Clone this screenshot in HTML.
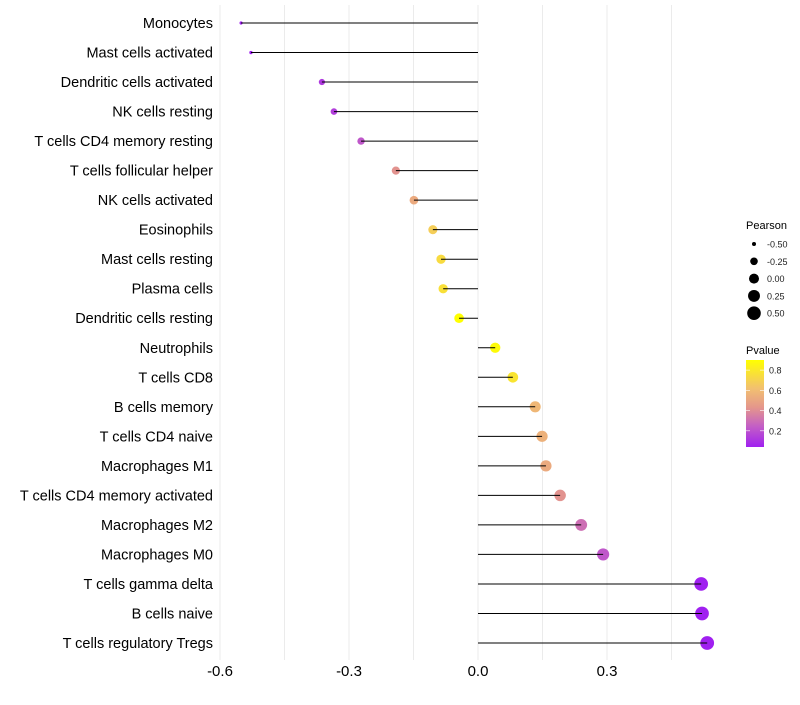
<!DOCTYPE html>
<html><head><meta charset="utf-8"><style>
body{margin:0;background:#fff;font-family:"Liberation Sans",sans-serif}
</style></head><body>
<svg id="chart" width="800" height="700" xmlns="http://www.w3.org/2000/svg" font-family="Liberation Sans, sans-serif"></svg>
<script>
const categories=["Monocytes","Mast cells activated","Dendritic cells activated","NK cells resting","T cells CD4 memory resting","T cells follicular helper","NK cells activated","Eosinophils","Mast cells resting","Plasma cells","Dendritic cells resting","Neutrophils","T cells CD8","B cells memory","T cells CD4 naive","Macrophages M1","T cells CD4 memory activated","Macrophages M2","Macrophages M0","T cells gamma delta","B cells naive","T cells regulatory  Tregs"];
const pearson=[-0.551,-0.528,-0.363,-0.335,-0.272,-0.191,-0.149,-0.105,-0.086,-0.081,-0.044,0.040,0.081,0.133,0.149,0.158,0.191,0.240,0.291,0.519,0.521,0.533];
const pvalues=[0.02,0.03,0.12,0.14,0.22,0.42,0.52,0.68,0.74,0.76,0.9,0.88,0.78,0.58,0.55,0.52,0.42,0.3,0.22,0.04,0.04,0.03];
const xTicks=[-0.6,-0.3,0.0,0.3];
const xTickLabels=["-0.6","-0.3","0.0","0.3"];
const sizeLegend=[-0.5,-0.25,0,0.25,0.5];
const sizeLegendLabels=["-0.50","-0.25","0.00","0.25","0.50"];
const pTicks=[0.2,0.4,0.6,0.8];

const NS="http://www.w3.org/2000/svg";
const svg=document.getElementById('chart');
const x=v=>478+v*430;
const y=i=>23+i*(620/21);
const r=v=>Math.sqrt(Math.max(2.5,25+42*v));
const stops=[[0.04,[160,32,240]],[0.25,[196,96,196]],[0.43,[228,150,140]],[0.62,[242,192,112]],[0.9,[255,255,0]]];
function col(p){
  if(p<=stops[0][0])return `rgb(${stops[0][1]})`;
  for(let k=1;k<stops.length;k++){if(p<=stops[k][0]){const a=stops[k-1],b=stops[k],t=(p-a[0])/(b[0]-a[0]);
    return `rgb(${a[1].map((c,j)=>Math.round(c+(b[1][j]-c)*t)).join(',')})`;}}
  return `rgb(${stops[stops.length-1][1]})`;
}
function el(tag,attrs,parent){const e=document.createElementNS(NS,tag);for(const k in attrs)e.setAttribute(k,attrs[k]);(parent||svg).appendChild(e);return e;}

[-0.6,-0.45,-0.3,-0.15,0,0.15,0.3,0.45].forEach(v=>{
  const g=el('line',{x1:x(v),x2:x(v),y1:5,y2:660,stroke:'#ebebeb','stroke-width':1});
  
  
});
xTicks.forEach((v,i)=>{
  const t=el('text',{x:x(v),y:676,'text-anchor':'middle','font-size':15,fill:'#000'});
  t.textContent=xTickLabels[i];
  
  
});
categories.forEach((c,i)=>{
  const t=el('text',{x:213,y:y(i)+5,'text-anchor':'end','font-size':14.5,fill:'#000'});
  t.textContent=c;
  
  
  const p=el('circle',{cx:x(pearson[i]),cy:y(i),r:r(pearson[i]),fill:col(pvalues[i])});
  
  
  const l=el('line',{x1:x(0),x2:x(pearson[i]),y1:y(i),y2:y(i),stroke:'#000','stroke-width':1});
  
  
});
const lt=el('text',{x:746,y:229,'font-size':11,fill:'#000'});lt.textContent='Pearson';


sizeLegend.forEach((v,i)=>{
  const cy=244+i*17.3;
  const c=el('circle',{cx:754,cy:cy,r:r(v),fill:'#000'});
  
  
  const t=el('text',{x:767,y:cy+3.5,'font-size':9,fill:'#222'});t.textContent=sizeLegendLabels[i];
  
  
});
const pt=el('text',{x:746,y:354,'font-size':11,fill:'#000'});pt.textContent='Pvalue';


const defs=el('defs',{});
const grad=el('linearGradient',{id:'pg',x1:0,y1:1,x2:0,y2:0},defs);
stops.forEach(s=>{el('stop',{offset:((s[0]-0.04)/(0.9-0.04)).toFixed(3),'stop-color':`rgb(${s[1]})`},grad);});
const bar=el('rect',{x:746,y:360,width:18,height:87,fill:'url(#pg)'});


const py=v=>447-(v-0.04)/(0.9-0.04)*87;
pTicks.forEach(v=>{
  el('line',{x1:746,x2:750,y1:py(v),y2:py(v),stroke:'#fff','stroke-width':0.6});
  el('line',{x1:760,x2:764,y1:py(v),y2:py(v),stroke:'#fff','stroke-width':0.6});
  const t=el('text',{x:769,y:py(v)+3.5,'font-size':9,fill:'#222'});t.textContent=v.toFixed(1);
  
  
});
</script>
</body></html>
